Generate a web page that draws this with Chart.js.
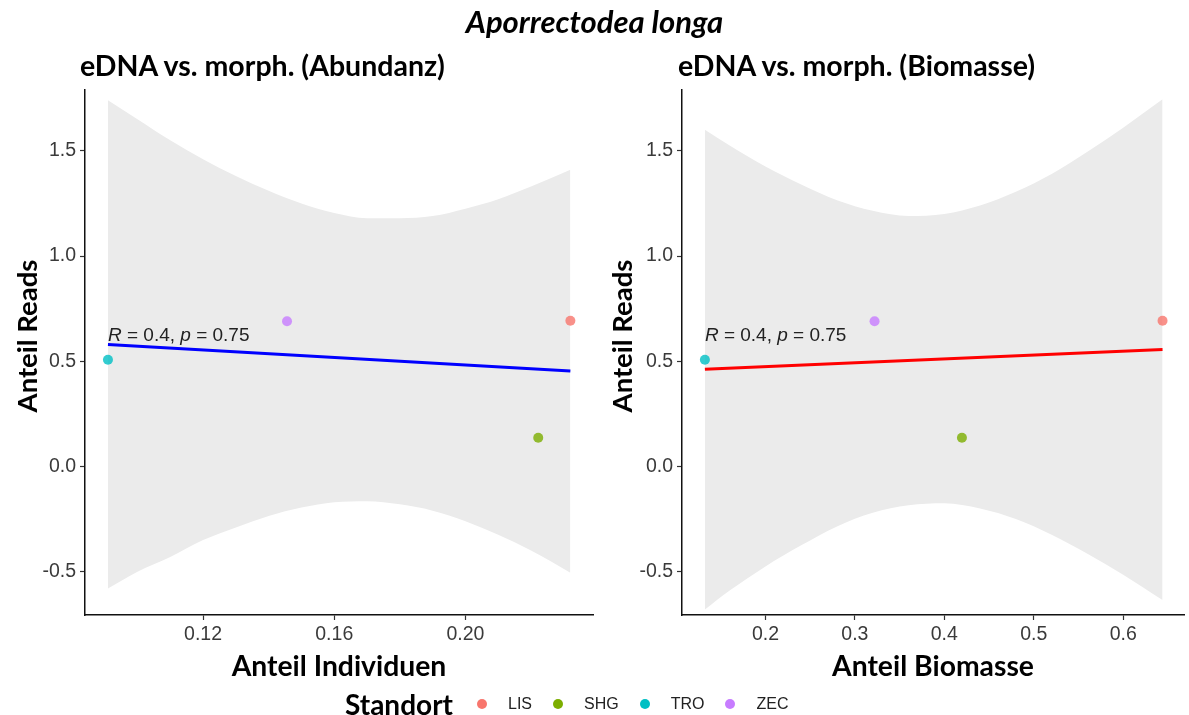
<!DOCTYPE html>
<html><head><meta charset="utf-8">
<script src="https://cdn.jsdelivr.net/npm/chart.js@4"></script>
<style>
body{margin:0;width:1189px;height:715px;position:relative;background:#fff;overflow:hidden;font-family:Lato,sans-serif;}
.t{position:absolute;white-space:nowrap;line-height:1;color:#000;z-index:2;}
canvas{position:absolute;top:0;z-index:1;}
#legend{position:absolute;left:345px;top:690px;height:28px;display:flex;align-items:center;z-index:2;}
#legend .ttl{font-family:Lato,sans-serif;font-weight:bold;font-size:28px;margin-right:3px;}
#legend .dot{width:10px;height:10px;border-radius:50%;margin-left:21px;}
#legend .lab{font-family:"Liberation Sans",Arial,sans-serif;font-size:16px;color:#222;margin-left:21px;}
</style></head><body>
<div class="t" style="left:0;width:1189px;text-align:center;top:6px;font-weight:bold;font-style:italic;font-size:31px;">Aporrectodea longa</div>
<div class="t" style="left:80px;top:51px;font-weight:bold;font-size:28.5px;">eDNA vs. morph. (Abundanz)</div>
<div class="t" style="left:678px;top:51px;font-weight:bold;font-size:28.5px;">eDNA vs. morph. (Biomasse)</div>
<canvas id="c1" width="600" height="715" style="left:0;width:600px;height:715px;"></canvas>
<canvas id="c2" width="589" height="715" style="left:600px;width:589px;height:715px;"></canvas>
<div id="legend"></div>
<script>
// ---- data ----
const standorte = ['LIS', 'SHG', 'TRO', 'ZEC'];
const standortColors = ['#F8766D', '#7CAE00', '#00BFC4', '#C77CFF'];
const anteilReads = [0.692, 0.136, 0.507, 0.690];
const anteilIndividuen = [0.232, 0.2222, 0.091, 0.1456];
const anteilBiomasse = [0.644, 0.4197, 0.1323, 0.322];

const fitAbundX = [0.091, 0.232];
const fitAbundY = [0.580, 0.453];
const fitBioX = [0.1323, 0.644];
const fitBioY = [0.462, 0.556];

const bandAbundX  = [0.091, 0.100, 0.110, 0.120, 0.130, 0.140, 0.150, 0.160, 0.170, 0.180, 0.190, 0.200, 0.210, 0.220, 0.232];
const bandAbundHi = [1.74, 1.65, 1.55, 1.46, 1.38, 1.31, 1.25, 1.205, 1.18, 1.18, 1.19, 1.225, 1.27, 1.33, 1.41];
const bandAbundLo = [-0.58, -0.50, -0.43, -0.35, -0.29, -0.235, -0.195, -0.17, -0.165, -0.18, -0.21, -0.26, -0.325, -0.40, -0.505];

const bandBioX  = [0.1323, 0.16, 0.20, 0.24, 0.28, 0.32, 0.36, 0.40, 0.44, 0.48, 0.52, 0.56, 0.60, 0.644];
const bandBioHi = [1.60, 1.525, 1.425, 1.34, 1.265, 1.215, 1.19, 1.20, 1.24, 1.305, 1.39, 1.495, 1.61, 1.745];
const bandBioLo = [-0.68, -0.59, -0.475, -0.375, -0.285, -0.22, -0.185, -0.175, -0.20, -0.25, -0.325, -0.415, -0.515, -0.635];

const yTicks = [-0.5, 0.0, 0.5, 1.0, 1.5];
const xTicksAbund = [0.12, 0.16, 0.20];
const xTicksBio = [0.2, 0.3, 0.4, 0.5, 0.6];

const corR = '0.4';
const corP = '0.75';
const corLabelY = 0.595;

// ---- helpers ----
const tickFont = {family: '"Liberation Sans", Arial, sans-serif', size: 19.5};
const tickColor = '#3a3a3a';
const titleFont = {family: 'Lato, sans-serif', size: 28.3, weight: 'bold'};

function pts(xs, ys) { return xs.map((x, i) => ({x: x, y: ys[i]})); }

function makeChart(id, cfg) {
  const annot = {
    id: 'annot',
    afterDatasetsDraw(chart) {
      const ctx = chart.ctx;
      const px = chart.scales.x.getPixelForValue(cfg.fitX[0]);
      const py = chart.scales.y.getPixelForValue(corLabelY);
      ctx.save();
      ctx.fillStyle = '#222';
      ctx.textBaseline = 'alphabetic';
      ctx.textAlign = 'left';
      const parts = [['R', true], [' = ' + corR + ', ', false], ['p', true], [' = ' + corP, false]];
      let x = px;
      parts.forEach(([s, it]) => {
        ctx.font = (it ? 'italic ' : '') + '19px "Liberation Sans", Arial, sans-serif';
        ctx.fillText(s, x, py);
        x += ctx.measureText(s).width;
      });
      ctx.restore();
    },
    afterDraw(chart) {
      const ctx = chart.ctx;
      ctx.save();
      ctx.translate(cfg.yTitleX, 336);
      ctx.rotate(-Math.PI / 2);
      ctx.font = 'bold 27.5px Lato, sans-serif';
      ctx.fillStyle = '#000';
      ctx.textAlign = 'center';
      ctx.textBaseline = 'middle';
      ctx.fillText('Anteil Reads', 0, 0);
      ctx.restore();
    }
  };
  return new Chart(document.getElementById(id), {
    type: 'scatter',
    data: {
      datasets: [
        {type: 'line', data: pts(cfg.bandX, cfg.bandHi), fill: '+1', backgroundColor: '#EBEBEB',
         borderWidth: 0, pointRadius: 0, cubicInterpolationMode: 'monotone', order: 3},
        {type: 'line', data: pts(cfg.bandX, cfg.bandLo), fill: false, backgroundColor: '#EBEBEB',
         borderWidth: 0, pointRadius: 0, cubicInterpolationMode: 'monotone', order: 3},
        {type: 'line', data: pts(cfg.fitX, cfg.fitY), borderColor: cfg.lineColor, borderWidth: 3,
         pointRadius: 0, fill: false, order: 2},
        {type: 'scatter', data: pts(cfg.xs, anteilReads),
         pointBackgroundColor: standortColors.map(c => c + 'CC'), pointBorderWidth: 0,
         pointRadius: 5, order: 1}
      ]
    },
    options: {
      responsive: false, animation: false, devicePixelRatio: 1,
      layout: {padding: {left: 0, top: 90, right: cfg.padRight, bottom: 30}},
      plugins: {legend: {display: false}, tooltip: {enabled: false}},
      scales: {
        x: {
          type: 'linear', min: cfg.xMin, max: cfg.xMax,
          afterBuildTicks: s => { s.ticks = cfg.xTicks.map(v => ({value: v})); },
          afterFit: s => { s.height = 70; },
          ticks: {callback: v => v.toFixed(cfg.dec), font: tickFont, color: tickColor, padding: 3},
          grid: {display: true, drawOnChartArea: false, drawTicks: true, tickLength: 5, tickColor: '#333', tickWidth: 1.2},
          border: {display: true, color: '#111', width: 1.5},
          title: {display: true, text: cfg.xTitle, font: titleFont, color: '#000', padding: {top: 0, bottom: 1}}
        },
        y: {
          type: 'linear', min: -0.706, max: 1.789,
          afterBuildTicks: s => { s.ticks = yTicks.map(v => ({value: v})); },
          afterFit: s => { s.width = cfg.yWidth; },
          ticks: {callback: v => v.toFixed(1), font: tickFont, color: tickColor, padding: 4},
          grid: {display: true, drawOnChartArea: false, drawTicks: true, tickLength: 5, tickColor: '#333', tickWidth: 1.2},
          border: {display: true, color: '#111', width: 1.5}
        }
      }
    },
    plugins: [annot]
  });
}

makeChart('c1', {
  xs: anteilIndividuen, fitX: fitAbundX, fitY: fitAbundY,
  bandX: bandAbundX, bandHi: bandAbundHi, bandLo: bandAbundLo,
  xTicks: xTicksAbund, xMin: 0.084, xMax: 0.2389, dec: 2,
  xTitle: 'Anteil Individuen', lineColor: '#0000FF', yWidth: 85, padRight: 7, yTitleX: 28
});
makeChart('c2', {
  xs: anteilBiomasse, fitX: fitBioX, fitY: fitBioY,
  bandX: bandBioX, bandHi: bandBioHi, bandLo: bandBioLo,
  xTicks: xTicksBio, xMin: 0.1067, xMax: 0.668, dec: 1,
  xTitle: 'Anteil Biomasse', lineColor: '#FF0000', yWidth: 82, padRight: 0, yTitleX: 23
});

// ---- legend ----
const lg = document.getElementById('legend');
const tt = document.createElement('span'); tt.className = 'ttl'; tt.textContent = 'Standort'; lg.appendChild(tt);
standorte.forEach((s, i) => {
  const d = document.createElement('span'); d.className = 'dot'; d.style.background = standortColors[i]; lg.appendChild(d);
  const l = document.createElement('span'); l.className = 'lab'; l.textContent = s; lg.appendChild(l);
});
</script>
</body></html>
